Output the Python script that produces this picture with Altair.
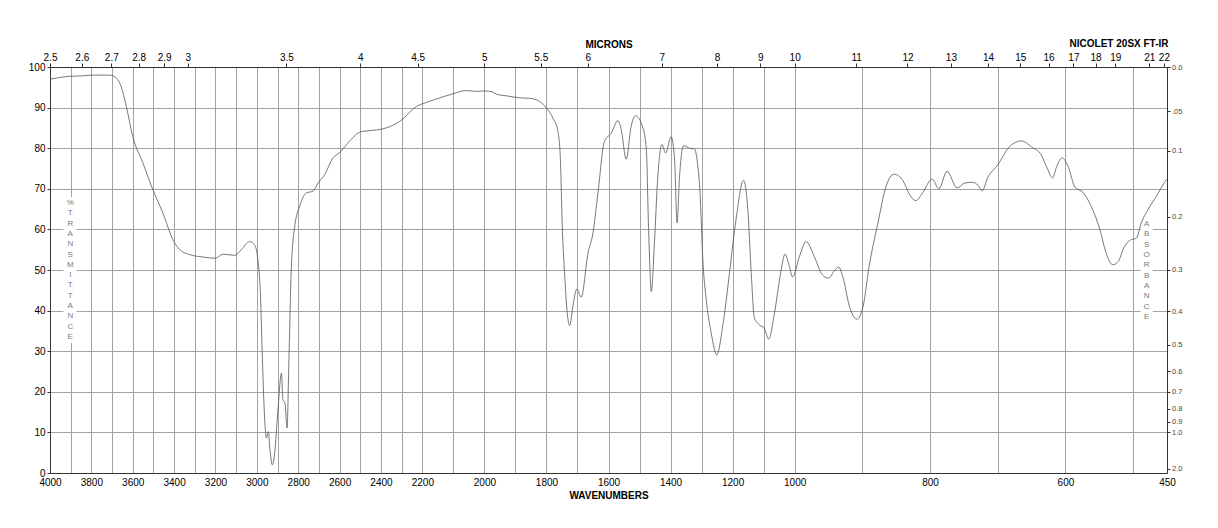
import altair as alt
import pandas as pd

# ---- spectrum ----
wavenumber = [4000, 3954, 3906, 3850, 3793, 3712, 3680, 3656, 3631, 3600, 3551, 3503, 3454, 3406,
              3373, 3325, 3261, 3201, 3164, 3107, 3075, 3035, 3011, 2995, 2983, 2973, 2962, 2954,
              2944, 2938, 2925, 2914, 2898, 2881, 2874, 2864, 2854, 2845, 2833, 2817, 2793, 2761,
              2729, 2704, 2672, 2632, 2600, 2551, 2495, 2438, 2374, 2309, 2228, 2186, 2144, 2101,
              2058, 2026, 1999, 1972, 1961, 1929, 1886, 1854, 1822, 1800, 1779, 1763, 1755, 1749,
              1741, 1734, 1725, 1715, 1702, 1688, 1666, 1650, 1634, 1613, 1591, 1570, 1559, 1543,
              1527, 1513, 1489, 1478, 1471, 1462, 1452, 1441, 1428, 1416, 1398, 1387, 1379, 1371,
              1358, 1339, 1323, 1312, 1305, 1296, 1285, 1269, 1251, 1232, 1210, 1189, 1165, 1151,
              1140, 1130, 1114, 1098, 1084, 1065, 1047, 1031, 1017, 1007, 993, 983, 971, 959, 950,
              941, 935, 929, 919, 908, 899, 890, 877, 865, 853, 840, 830, 821, 811, 797, 787, 775,
              760, 749, 737, 729, 723, 715, 700, 683, 665, 650, 636, 628, 619, 613, 605, 596, 586,
              574, 562, 549, 540, 530, 522, 514, 505, 495, 488, 478, 466, 451, 450]
transmittance = [97.0, 97.4, 97.7, 97.8, 98.0, 98.0, 97.3, 95.2, 90.3, 82.9, 76.4, 69.8, 64.0, 57.5,
                 55.0, 53.8, 53.2, 52.9, 53.9, 53.6, 55.0, 57.0, 56.2, 52.5, 44.3, 27.9, 13.1, 8.6,
                 10.2, 6.6, 2.0, 4.9, 15.6, 24.6, 18.1, 17.2, 11.1, 27.9, 50.9, 60.7, 65.7, 69.0,
                 69.4, 71.4, 73.5, 77.6, 78.9, 81.8, 84.1, 84.4, 85.0, 86.6, 90.3, 91.3, 92.4, 93.4,
                 94.2, 94.0, 94.1, 93.8, 93.3, 92.9, 92.4, 92.3, 91.5, 89.9, 87.4, 84.1, 77.2, 60.7,
                 48.4, 40.2, 36.3, 41.0, 45.3, 43.3, 54.2, 59.1, 69.0, 81.7, 83.7, 86.8, 84.6, 77.3,
                 85.4, 88.0, 85.0, 79.6, 60.7, 44.7, 56.7, 73.1, 80.9, 78.8, 82.8, 77.2, 61.6, 73.1,
                 80.6, 80.0, 79.8, 75.5, 69.0, 52.5, 42.7, 34.5, 29.1, 36.1, 49.3, 62.4, 72.1, 64.9,
                 49.3, 38.2, 36.5, 35.7, 33.0, 39.4, 48.4, 53.9, 50.9, 48.3, 53.3, 57.0, 53.3, 48.8, 48.0,
                 49.9, 50.7, 48.4, 41.0, 37.9, 41.0, 50.9, 61.6, 70.6, 73.6, 72.0, 68.5, 67.1, 69.0, 72.4, 70.0, 74.3,
                 70.2, 71.4, 71.6, 70.8, 69.5, 72.7, 75.9, 80.3, 81.8, 80.3, 78.4, 75.5, 72.7, 75.5, 77.6, 75.5, 70.4,
                 69.1, 65.7, 59.9, 54.2, 51.3, 52.1, 55.4, 57.3, 57.9, 61.6, 64.9, 68.1, 72.2, 72.4]

# ---- axes ----
bottom_labels = [4000, 3800, 3600, 3400, 3200, 3000, 2800, 2600, 2400, 2200, 2000, 1800,
                 1600, 1400, 1200, 1000, 800, 600, 450]
grid_wavenumbers = list(range(4000, 499, -100)) + [450]
microns = [2.5, 2.6, 2.7, 2.8, 2.9, 3, 3.5, 4, 4.5, 5, 5.5, 6, 7, 8, 9, 10, 11, 12, 13, 14,
           15, 16, 17, 18, 19, 21, 22]
absorbance = [0.0, 0.05, 0.1, 0.2, 0.3, 0.4, 0.5, 0.6, 0.7, 0.8, 0.9, 1.0, 2.0]
percent_ticks = list(range(0, 101, 10))

W, H = 1117, 406
FONT = "Liberation Sans"
x_domain = [4000, 2200, 1000, 450]
x_range = [0, W / 3, 2 * W / 3, W]

def xscale():
    return alt.Scale(domain=x_domain, range=x_range, nice=False, zero=False)

def yscale():
    return alt.Scale(domain=[0, 100], nice=False, zero=False)

spec = pd.DataFrame({"wn": wavenumber, "T": transmittance})

label_set = ",".join(str(v) for v in bottom_labels)
bottom_axis = alt.Axis(
    orient="bottom", values=grid_wavenumbers,
    labelExpr=f"indexof([{label_set}], datum.value) >= 0 ? format(datum.value, 'd') : ''",
    title="WAVENUMBERS", titleFontWeight="bold", titleFontSize=10, titlePadding=3,
    titleColor="#000", ticks=False, tickSize=0, labelPadding=4, labelFontSize=10,
    labelColor="#000", labelOverlap=False, labelFlush=False, grid=True,
    gridColor="#a3a3a3", gridWidth=1, domainColor="#333",
)
left_axis = alt.Axis(
    orient="left", values=percent_ticks, format="d", title=None, grid=True,
    gridColor="#a3a3a3", tickSize=3, tickColor="#333", labelPadding=2,
    labelFontSize=10, labelColor="#000", domainColor="#333", labelOverlap=False,
)
top_axis = alt.Axis(
    orient="top", values=[10000 / m for m in microns],
    labelExpr="format(10000 / datum.value, '.2~f')",
    title="MICRONS", titleFontWeight="bold", titleFontSize=10, titlePadding=3,
    titleColor="#000", grid=False, tickSize=4, tickColor="#333", labelPadding=1,
    labelFontSize=10, labelColor="#000", labelOverlap=False, labelFlush=False,
    domainColor="#333",
)
right_axis = alt.Axis(
    orient="right", values=[100 * 10 ** (-a) for a in absorbance],
    labelExpr="abs(datum.value - 89.125) < 0.05 ? '.05' : format(abs(log(datum.value / 100)) / LN10, '.1f')",
    title=None, grid=False, tickSize=3, tickColor="#333", labelPadding=1.5,
    labelFontSize=7.5, labelColor="#444", labelOverlap=False, domainColor="#333",
)

boxes = pd.DataFrame({"x1": [3935, 489], "x2": [3872, 471], "y1": [32, 36.5], "y2": [68, 63.5]})
letters = pd.DataFrame({
    "wn": [3902, 480], "T": [66.5, 61.3],
    "txt": ["%\nT\nR\nA\nN\nS\nM\nI\nT\nT\nA\nN\nC\nE", "A\nB\nS\nO\nR\nB\nA\nN\nC\nE"],
})

rects = alt.Chart(boxes).mark_rect(color="white", opacity=1).encode(
    x=alt.X("x1:Q", scale=xscale(), axis=bottom_axis),
    x2="x2:Q",
    y=alt.Y("y1:Q", scale=yscale(), axis=left_axis),
    y2="y2:Q",
)
line = alt.Chart(spec).mark_line(color="#555555", strokeWidth=0.8, interpolate="monotone").encode(
    x=alt.X("wn:Q", scale=xscale(), axis=bottom_axis),
    y=alt.Y("T:Q", scale=yscale(), axis=left_axis),
    order=alt.Order("wn:Q", sort="descending"),
)
text = alt.Chart(letters).mark_text(
    lineBreak="\n", lineHeight=10.3, fontSize=8, color="#7a7a7a", align="center", baseline="middle"
).encode(
    x=alt.X("wn:Q", scale=xscale(), axis=bottom_axis),
    y=alt.Y("T:Q", scale=yscale(), axis=left_axis),
    text="txt:N",
)
brand = alt.Chart(pd.DataFrame({"t": ["NICOLET 20SX FT-IR"]})).mark_text(
    align="right", baseline="middle", fontWeight="bold", fontSize=10, color="#000"
).encode(text="t:N", x=alt.value(W + 1.5), y=alt.value(-22.6))

base = alt.layer(rects, text, line, brand)

top = alt.Chart(pd.DataFrame({"wn": [10000 / m for m in microns], "T": [50] * len(microns)})).mark_point(
    opacity=0
).encode(
    x=alt.X("wn:Q", scale=xscale(), axis=top_axis),
    y=alt.Y("T:Q", scale=yscale(), axis=right_axis),
)

chart = alt.layer(base, top).resolve_scale(x="independent", y="independent").properties(
    width=W, height=H,
    autosize=alt.AutoSizeParams(type="none"),
    padding={"left": 50, "top": 67, "right": 51, "bottom": 55},
    background="white",
).configure(font=FONT).configure_view(stroke=None)

chart.save("out.html", embed_options={"renderer": "svg", "actions": False})
